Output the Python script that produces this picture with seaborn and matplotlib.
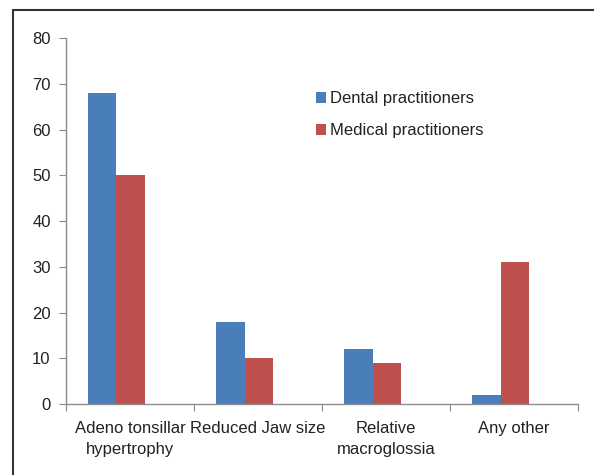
import pandas as pd
import matplotlib.pyplot as plt
import seaborn as sns
from matplotlib.lines import Line2D

# data
categories = ['Adeno tonsillar\nhypertrophy', 'Reduced Jaw size', 'Relative\nmacroglossia', 'Any other']
dental = [68, 18, 12, 2]
medical = [50, 10, 9, 31]
series = ['Dental practitioners', 'Medical practitioners']
colors = ['#4a7ebb', '#c0504d']

df = pd.DataFrame({
    'Categoria': categories * 2,
    'Valor': dental + medical,
    'Grupo': [series[0]] * 4 + [series[1]] * 4,
})

sns.set_style('white')
plt.rcParams['font.family'] = ['Liberation Sans', 'DejaVu Sans']

fig = plt.figure(figsize=(5.94, 4.75), dpi=100)
ax = fig.add_axes([0.111, 0.149, 0.862, 0.771])

sns.barplot(data=df, x='Categoria', y='Valor', hue='Grupo', palette=colors,
            width=0.44, saturation=1, linewidth=0, ax=ax)

# Excel leaves room for a third (empty) series, so groups sit left of centre
for p in ax.patches:
    p.set_x(p.get_x() - 0.105)

ax.set_xlim(-0.5, 3.5)
ax.set_ylim(0, 80)
ax.set_yticks(range(0, 81, 10))
ax.set_xlabel('')
ax.set_ylabel('')

for s in ['top', 'right']:
    ax.spines[s].set_visible(False)
for s in ['left', 'bottom']:
    ax.spines[s].set_color('#8c8c8c')
    ax.spines[s].set_linewidth(1)

ax.set_xticks([-0.5, 0.5, 1.5, 2.5, 3.5], minor=False)
ax.set_xticklabels([])
ax.set_xticks([0, 1, 2, 3], minor=True)
ax.set_xticklabels(categories, minor=True, fontsize=12, color='#222222', linespacing=1.55)
ax.tick_params(axis='x', which='major', length=5, color='#8c8c8c', direction='out', bottom=True)
ax.tick_params(axis='x', which='minor', length=0, pad=12)
ax.tick_params(axis='y', length=5, color='#8c8c8c', direction='out', left=True,
               labelsize=12, labelcolor='#222222', pad=6)

leg = ax.legend(loc='upper left', bbox_to_anchor=(0.46, 0.895), frameon=False,
                fontsize=12, handlelength=0.6, handleheight=0.6, handletextpad=0.2,
                labelspacing=1.0)
for t in leg.get_texts():
    t.set_color('#222222')

# outer frame (only top and left edges are visible in the original)
fig.add_artist(Line2D([13 / 594, 1], [1 - 10 / 475] * 2, color='#333333', lw=1.5))
fig.add_artist(Line2D([13 / 594] * 2, [0, 1 - 10 / 475], color='#333333', lw=1.5))

fig.savefig('out.png', dpi=100)
